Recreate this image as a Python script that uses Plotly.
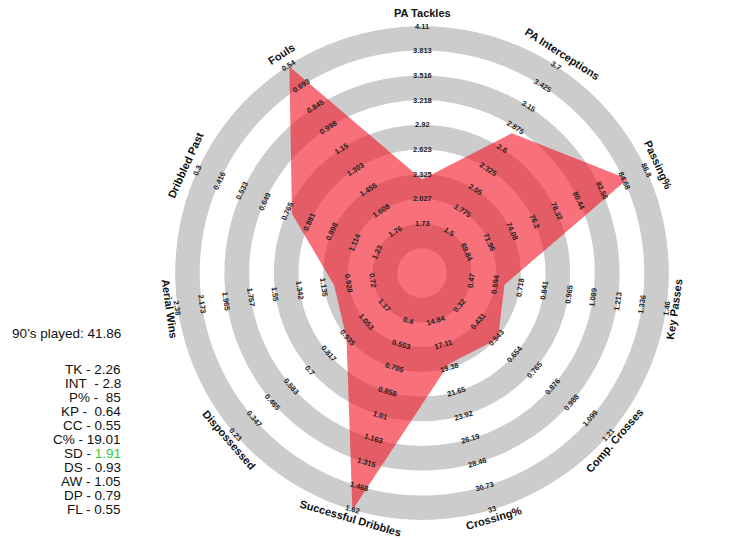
import math
import plotly.graph_objects as go

# ---------------- data ----------------
categories = ["PA Tackles", "PA Interceptions", "Passing%", "Key Passes",
              "Comp. Crosses", "Crossing%", "Successful Dribbles", "Dispossessed",
              "Aerial Wins", "Dribbled Past", "Fouls"]
player_values = [2.26, 2.8, 85, 0.64, 0.55, 19.01, 1.91, 0.93, 1.05, 0.79, 0.55]

# tick labels from inner ring (level 2) to outer ring (level 10)
pa_tackles_ticks = ["1.73", "2.027", "2.325", "2.623", "2.92", "3.218", "3.516", "3.813", "4.11"]
pa_interceptions_ticks = ["1.5", "1.775", "2.05", "2.325", "2.6", "2.875", "3.15", "3.425", "3.7"]
passing_ticks = ["69.84", "71.96", "74.08", "76.2", "78.32", "80.44", "82.56", "84.68", "86.8"]
key_passes_ticks = ["0.47", "0.594", "0.718", "0.841", "0.965", "1.089", "1.213", "1.336", "1.46"]
comp_crosses_ticks = ["0.32", "0.431", "0.543", "0.654", "0.765", "0.876", "0.988", "1.099", "1.21"]
crossing_ticks = ["14.84", "17.11", "19.38", "21.65", "23.92", "26.19", "28.46", "30.73", "33"]
dribbles_ticks = ["0.4", "0.553", "0.705", "0.858", "1.01", "1.163", "1.315", "1.468", "1.62"]
dispossessed_ticks = ["1.17", "1.053", "0.935", "0.817", "0.7", "0.583", "0.465", "0.347", "0.23"]
aerial_ticks = ["0.72", "0.928", "1.135", "1.342", "1.55", "1.757", "1.965", "2.173", "2.38"]
dribbled_past_ticks = ["1.23", "1.114", "0.998", "0.881", "0.765", "0.649", "0.533", "0.416", "0.3"]
fouls_ticks = ["1.76", "1.608", "1.455", "1.303", "1.15", "0.998", "0.845", "0.693", "0.54"]

axis_ticks = [pa_tackles_ticks, pa_interceptions_ticks, passing_ticks, key_passes_ticks,
              comp_crosses_ticks, crossing_ticks, dribbles_ticks, dispossessed_ticks,
              aerial_ticks, dribbled_past_ticks, fouls_ticks]

matches_played = "41.86"
stat_labels = ["TK", "INT\u00a0", "P%", "KP", "CC", "C%", "SD", "DS", "AW", "DP", "FL"]
stat_values = ["2.26", "2.8", "\u00a085", "\u00a00.64", "0.55", "19.01", "1.91", "0.93", "1.05", "0.79", "0.55"]
highlight_stat = "SD"

# ---------------- geometry ----------------
n = len(categories)
theta = [i * 360.0 / n for i in range(n)]
first_level, last_level = 2, 10


def level_of(v, ticks):
    lo, hi = float(ticks[0]), float(ticks[-1])
    k = first_level + (last_level - first_level) * (v - lo) / (hi - lo)
    return max(0.0, min(float(last_level), k))


levels = [level_of(v, t) for v, t in zip(player_values, axis_ticks)]

fig = go.Figure()

# grey rings
ring_bases = list(range(1, last_level, 2))
fig.add_trace(go.Barpolar(
    r=[1] * len(ring_bases), base=ring_bases, theta=[0] * len(ring_bases),
    width=[360] * len(ring_bases),
    marker=dict(color="#cccccc", line=dict(width=0)),
    hoverinfo="skip", showlegend=False))

# player polygon
fig.add_trace(go.Scatterpolar(
    r=levels + [levels[0]], theta=theta + [theta[0]],
    mode="lines", fill="toself", fillcolor="rgba(244,16,32,0.6)",
    line=dict(width=0, color="rgba(0,0,0,0)"),
    hoverinfo="skip", showlegend=False))

# invisible cartesian overlay (whole page) used to place rotated text
fig.add_trace(go.Scatter(x=[0], y=[0], mode="markers", marker=dict(opacity=0),
                         hoverinfo="skip", showlegend=False))

W, H = 731, 540
cx, cy, R = 414, 265, 247          # figure pixels (page is offset by the body margin)
s = R / last_level
dom_x = [(cx - R) / W, (cx + R) / W]
dom_y = [(H - cy - R) / H, (H - cy + R) / H]

tick_font = dict(family="Liberation Sans, Arial", size=7.5, color="#222222", weight="bold")
title_font = dict(family="Liberation Sans, Arial", size=11, color="#111111", weight="bold")

annotations = []
for i, (cat, ticks) in enumerate(zip(categories, axis_ticks)):
    a = math.radians(90 - theta[i])
    flipped = 90 < theta[i] < 270
    rot = theta[i] - 180 if flipped else theta[i]
    for j, t in enumerate(ticks):
        k = first_level + j
        annotations.append(dict(
            x=k * math.cos(a), y=k * math.sin(a), xref="x", yref="y",
            text=t, textangle=rot, showarrow=False,
            xanchor="center", yanchor="middle", font=tick_font))
    kt = 10.33 if flipped else 10.52
    annotations.append(dict(
        x=kt * math.cos(a), y=kt * math.sin(a), xref="x", yref="y",
        text=cat, textangle=rot, showarrow=False, borderpad=0,
        xanchor="center", yanchor="middle", font=title_font))

left_font = dict(family="Liberation Sans, Arial", size=13.5, color="#111111")
annotations.append(dict(
    x=114 / W, y=1 - 325 / H, xref="paper", yref="paper",
    text="90\u2019s played: " + matches_played, showarrow=False, borderpad=0,
    xanchor="right", yanchor="middle", font=left_font))
for i, (lab, val) in enumerate(zip(stat_labels, stat_values)):
    if lab == highlight_stat:
        val_txt = '<span style="color:#33cc33">' + val + "</span>"
    else:
        val_txt = val
    annotations.append(dict(
        x=114 / W, y=1 - (361 + 14 * i) / H, xref="paper", yref="paper",
        text=lab + " - " + val_txt, showarrow=False, borderpad=0,
        xanchor="right", yanchor="middle", font=left_font))

fig.update_layout(
    width=W, height=H,
    margin=dict(l=0, r=0, t=0, b=0),
    paper_bgcolor="white", plot_bgcolor="rgba(0,0,0,0)",
    showlegend=False,
    polar=dict(
        domain=dict(x=dom_x, y=dom_y),
        bgcolor="white",
        radialaxis=dict(range=[0, last_level], visible=False, showgrid=False),
        angularaxis=dict(visible=False, showgrid=False, rotation=90, direction="clockwise"),
    ),
    xaxis=dict(domain=[0, 1], range=[-cx / s, (W - cx) / s], visible=False, fixedrange=True),
    yaxis=dict(domain=[0, 1], range=[-(H - cy) / s, cy / s], visible=False, fixedrange=True),
    annotations=annotations,
)

fig.write_html("out.html")
